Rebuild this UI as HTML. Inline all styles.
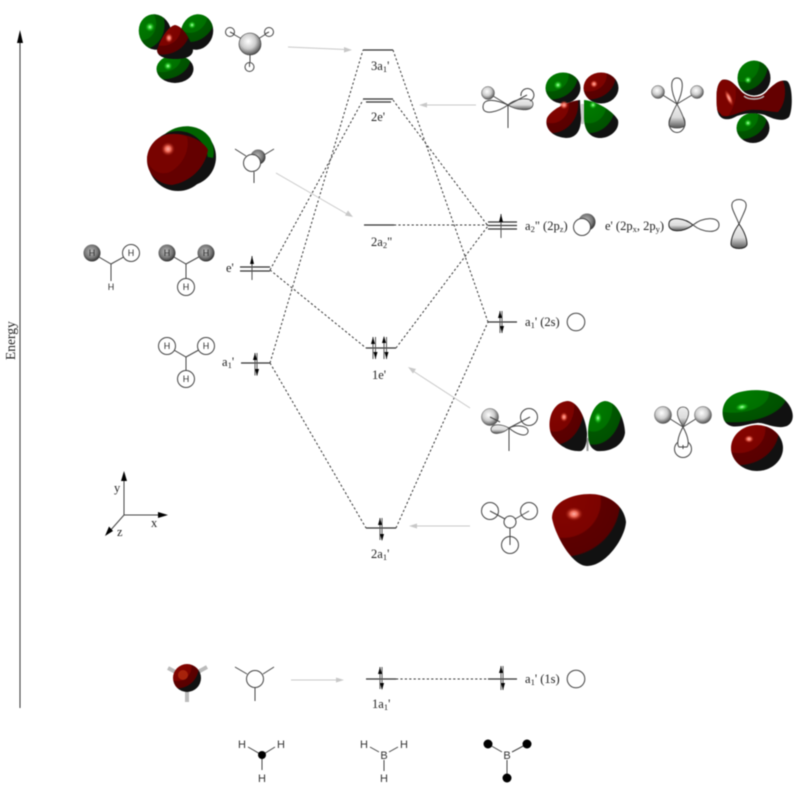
<!DOCTYPE html>
<html><head><meta charset="utf-8"><style>
html,body{margin:0;padding:0;background:#fff;width:800px;height:785px;overflow:hidden}
svg{display:block;filter:blur(.4px)}
text{font-family:"Liberation Serif",serif;font-size:12.5px;fill:#222}
.h{font-family:"Liberation Sans",sans-serif;font-size:9px;fill:#333;text-anchor:middle}
.b{font-family:"Liberation Sans",sans-serif;font-size:11px;fill:#333;text-anchor:middle}
.s{font-size:8.5px}
.d{stroke:#333;stroke-width:1;stroke-dasharray:2.2 2.2;fill:none}
.l{stroke:#333;stroke-width:1.2;fill:none}
.n{stroke:#444;stroke-width:1;fill:none}
.w{stroke:#444;stroke-width:1;fill:#fff}
.g{stroke:#c8c8c8;stroke-width:1;fill:none}
</style></head><body>
<svg width="800" height="785" viewBox="0 0 800 785" xmlns="http://www.w3.org/2000/svg">
<defs>
<radialGradient id="r" cx=".15" cy=".1" r="1">
<stop offset="0" stop-color="#850500"/><stop offset=".5" stop-color="#7c0300"/><stop offset=".52" stop-color="#5c0000"/><stop offset=".76" stop-color="#580000"/><stop offset=".78" stop-color="#111"/><stop offset="1" stop-color="#111"/></radialGradient>
<radialGradient id="v" cx=".15" cy=".1" r="1">
<stop offset="0" stop-color="#007c00"/><stop offset=".5" stop-color="#007000"/><stop offset=".52" stop-color="#005600"/><stop offset=".76" stop-color="#005000"/><stop offset=".78" stop-color="#111"/><stop offset="1" stop-color="#111"/></radialGradient>
<radialGradient id="hr"><stop offset="0" stop-color="#ffb0a8"/><stop offset=".4" stop-color="#f06a58"/><stop offset="1" stop-color="#a01808" stop-opacity="0"/></radialGradient>
<radialGradient id="hv"><stop offset="0" stop-color="#b8ffb8"/><stop offset=".4" stop-color="#30d030"/><stop offset="1" stop-color="#009000" stop-opacity="0"/></radialGradient>
<radialGradient id="k" cx=".42" cy=".38" r=".68"><stop offset="0" stop-color="#fff"/><stop offset=".5" stop-color="#ccc"/><stop offset=".85" stop-color="#666"/><stop offset="1" stop-color="#333"/></radialGradient>
<radialGradient id="dk" cx=".45" cy=".42" r=".62"><stop offset="0" stop-color="#bbb"/><stop offset=".6" stop-color="#777"/><stop offset="1" stop-color="#222"/></radialGradient>
<linearGradient id="t" x1="0" y1="0" x2="0" y2="1"><stop offset="0" stop-color="#eee"/><stop offset=".55" stop-color="#dcdcdc"/><stop offset="1" stop-color="#555"/></linearGradient>
</defs>

<!-- Energy axis -->
<line x1="20" y1="708" x2="20" y2="40" stroke="#333" stroke-width="1"/>
<path d="M20 30L23 43H17Z" fill="#000"/>
<text transform="translate(15,360) rotate(-90)" style="font-size:13.5px">Energy</text>

<!-- dashed correlation lines -->
<path class="d" d="M270 363L363 50M270 270L363 100M270 270L366 348M270 363L366 528M393 50L488 322M393 100L488 226M394 225H488M396 348L488 226M396 528L488 322M396 679H488"/>

<!-- gray arrows -->
<g class="g"><path d="M288 47L345 49.500M476 105H426M276 173L347 214M470 408L413 371M470 526H416M291 680H338"/></g>
<g fill="#c8c8c8"><path d="M352 50L344 47V52.500ZM419 105L427 102.500V107.500ZM353 217L345 215.500L348 210.500ZM408 367L416 369L413 373.500ZM409 526L417 523.500V528.500ZM344 680L336 677.500V682.500Z"/></g>

<!-- levels -->
<g class="l">
<path d="M363 50H393M363 99H393M366 102H391M364 225H394M366 348H396M366 528H396M366 679H396"/>
<path d="M240 267H270M240 271H270M241 363H270"/>
<path d="M488 222H517M488 225.500H517M488 229H517M488 322H517M488 679H517"/>
</g>

<!-- spins -->
<g stroke="#555" stroke-width="1" fill="none">
<path d="M252 256V280M255 353V375.500M257 353V375.500M373 337V359M375.500 337V359M384 337V359M386.500 337V359M380 518V540M382 518V540M380 667V689M382 667V689M501 666V690M503 666V690M500 311V333M502 311V333M501 214V238"/>
</g>
<g fill="#000">
<path d="M252 256L254 264H250ZM255 353L257 360H253ZM257 376L255 369H259ZM373 337L375 344H371ZM375.500 359L373.500 352H377.500ZM384 336L386 343H382ZM386.500 359L384.500 352H388.500ZM380 518L382 525H378ZM382 541L380 534H384ZM380 667L382 674H378ZM382 690L380 683H384ZM501 666L503 673H499ZM503 690L501 683H505ZM500 311L502 318H498ZM502 333L500 326H504ZM501 214L503 222H499Z"/>
</g>

<!-- level labels -->
<text x="371" y="70">3a<tspan class="s" dy="2">1</tspan><tspan dy="-2">'</tspan></text>
<text x="371" y="121">2e'</text>
<text x="371" y="246">2a<tspan class="s" dy="2">2</tspan><tspan dy="-2">"</tspan></text>
<text x="372" y="379">1e'</text>
<text x="371" y="558">2a<tspan class="s" dy="2">1</tspan><tspan dy="-2">'</tspan></text>
<text x="372" y="708">1a<tspan class="s" dy="2">1</tspan><tspan dy="-2">'</tspan></text>
<text x="226" y="272">e'</text>
<text x="222" y="366">a<tspan class="s" dy="2">1</tspan><tspan dy="-2">'</tspan></text>
<text x="525" y="230">a<tspan class="s" dy="2">2</tspan><tspan dy="-2">" (2p</tspan><tspan class="s" dy="2">z</tspan><tspan dy="-2">)</tspan></text>
<text x="605" y="230">e' (2p<tspan class="s" dy="2">x</tspan><tspan dy="-2">, 2p</tspan><tspan class="s" dy="2">y</tspan><tspan dy="-2">)</tspan></text>
<text x="525" y="326">a<tspan class="s" dy="2">1</tspan><tspan dy="-2">' (2s)</tspan></text>
<text x="525" y="683">a<tspan class="s" dy="2">1</tspan><tspan dy="-2">' (1s)</tspan></text>

<!-- axes -->
<path class="n" d="M124 515V478M124 515H160M124 515L109 532"/>
<g fill="#000"><path d="M124 471L127 481H121ZM168 515L158 518V512ZM105 536L109 526.500L113 531Z"/></g>
<text x="114" y="492">y</text><text x="151" y="527">x</text><text x="117" y="536">z</text>

<!-- TOP-LEFT MO -->
<ellipse cx="155" cy="32" rx="16" ry="18" transform="rotate(-20 155 32)" fill="url(#v)"/>
<ellipse cx="197" cy="32" rx="16" ry="18" transform="rotate(20 197 32)" fill="url(#v)"/>
<ellipse cx="175" cy="69" rx="18.500" ry="14" fill="url(#v)"/>
<path d="M175 25C183 26 191 40 193 50C193 58 182 59 175 59C166 59 157 57 157 50C160 40 168 26 175 25Z" fill="url(#r)"/>
<circle cx="150" cy="27" r="5" fill="url(#hv)"/><circle cx="192" cy="25" r="4" fill="url(#hv)"/><circle cx="168" cy="66" r="4.500" fill="url(#hv)"/><ellipse cx="169" cy="38" rx="4" ry="5" fill="url(#hr)"/>
<!-- top-left ball -->
<path class="n" d="M233 34L242 39M266 34L258 39M250 54V62"/>
<circle cx="250" cy="44" r="11" fill="url(#k)" stroke="#333" stroke-width=".6"/>
<circle cx="230" cy="32" r="4.500" class="w"/><circle cx="269" cy="32" r="4.500" class="w"/><circle cx="249.500" cy="67" r="4.500" class="w"/>
<path class="n" d="M230 32L234 34M269 32L265 34M249.500 67V62"/>

<!-- second-left MO -->
<circle cx="187" cy="157" r="29" fill="#111"/>
<path d="M165 134C178 123 200 123 210 138C213 144 215 150 213 158L175 150Z" fill="#006400"/>
<circle cx="178" cy="161" r="30" fill="#111"/>
<path d="M172 134C190 133 205 143 208 150C205 168 190 182 172 185C156 184 147 172 147 160C147 146 158 134 172 134Z" fill="#640000"/>
<path d="M172 134C178 134 183 135 187 137C190 150 183 165 170 172C160 176 150 170 147 160C147 146 158 134 172 134Z" fill="#780300"/>
<circle cx="168" cy="149" r="7" fill="url(#hr)"/>
<!-- ball -->
<circle cx="258" cy="157" r="7.500" fill="url(#dk)"/>
<circle cx="252" cy="163" r="8.500" class="w"/>
<path class="n" d="M235 149L246 156M274 149L264 155M254 172V183"/>

<!-- H row e' -->
<path class="n" d="M92 253L111 264L131 253M111 264V281M167 253L186 264L206 253M186 264V279M167 346L186 357L206 346M186 357V371"/>
<circle cx="92" cy="253" r="8.500" fill="url(#dk)"/>
<circle cx="131" cy="253" r="8.500" class="w"/>
<circle cx="167" cy="253" r="8.500" fill="url(#dk)"/><circle cx="206" cy="253" r="8.500" fill="url(#dk)"/>
<circle cx="186" cy="287" r="8.500" class="w"/>
<circle cx="167" cy="346" r="8.500" class="w"/><circle cx="206" cy="346" r="8.500" class="w"/><circle cx="186" cy="379" r="8.500" class="w"/>
<g>
<text class="h" x="92" y="256">H</text><text class="h" x="131" y="256">H</text><text class="h" x="111" y="290">H</text>
<text class="h" x="167" y="256">H</text><text class="h" x="206" y="256">H</text><text class="h" x="186" y="290">H</text>
<text class="h" x="167" y="349">H</text><text class="h" x="206" y="349">H</text><text class="h" x="186" y="382">H</text>
</g>

<!-- right shape 1 -->
<path class="w" d="M508 105C497 100 483 97 483 107C483 116 498 112 508 105Z"/>
<path d="M508 105C515 98 533 96 533 104C533 113 515 110 508 105Z" fill="url(#t)" stroke="#444" stroke-width=".8"/>
<path class="n" d="M508 105V128M508 105L488 93M508 105L527 95"/>
<circle cx="488" cy="93" r="6.500" fill="url(#k)" stroke="#555" stroke-width=".5"/>
<path class="n" d="M521 96A6.500 6.500 0 1 1 530 101"/>
<!-- right MO 1 -->
<ellipse cx="563" cy="88" rx="17.500" ry="15.500" fill="url(#v)"/>
<ellipse cx="601" cy="88" rx="17.500" ry="15.500" fill="url(#r)"/>
<path d="M580 100C570 101 552 108 547 118C544 128 552 137 566 138C578 138 581 128 581 118Z" fill="url(#r)"/>
<path d="M584 100C596 101 612 110 618 120C620 130 610 138 600 138C590 138 584 130 584 118Z" fill="url(#v)"/>
<rect x="581" y="104" width="3" height="20" fill="#ccc"/>
<circle cx="558" cy="85" r="4.500" fill="url(#hv)"/><circle cx="594" cy="84" r="4" fill="url(#hr)"/><circle cx="564" cy="105" r="4.500" fill="url(#hr)"/><circle cx="593" cy="105" r="4" fill="url(#hv)"/>

<!-- right shape 2 -->
<path class="w" d="M677 104C671 92 669 78 677 78C685 78 683 92 677 104Z"/>
<ellipse cx="677" cy="123" rx="8" ry="9.500" class="w"/>
<path d="M677 104C671 115 669 122 669 125C670 129 684 129 685 125C685 122 683 115 677 104Z" fill="url(#t)" stroke="#444" stroke-width=".8"/>
<path class="n" d="M677 104L658 92M677 104L697 92"/>
<circle cx="658" cy="92" r="6.500" fill="url(#k)" stroke="#555" stroke-width=".5"/>
<circle cx="697" cy="92" r="6.500" fill="url(#k)" stroke="#555" stroke-width=".5"/>
<!-- right MO 2 -->
<ellipse cx="753" cy="128" rx="16.500" ry="15" fill="url(#v)"/>
<path d="M722 80C730 78 735 85 740 90C745 97 760 101 768 90C775 83 782 79 787 81C793 85 793 110 789 117C784 122 775 120 765 115C755 112 745 113 737 116C727 122 718 120 717 108C716 96 716 84 722 80Z" fill="#111"/>
<path d="M722 80C730 78 735 85 740 90C745 97 760 101 768 90C775 83 780 80 783 81C787 90 785 105 778 112C770 112 760 109 750 110C740 111 730 118 722 116C717 112 716 84 722 80Z" fill="#640000"/>
<path d="M722 80C727 79 731 82 735 86C737 95 736 105 728 116C722 116 717 112 717 108C716 96 716 84 722 80Z" fill="#7c0300"/>
<ellipse cx="754" cy="78" rx="16.500" ry="17.500" fill="url(#v)"/>
<path d="M744 96C748 100 760 100 764 96" stroke="#bbb" stroke-width="1.500" fill="none"/>
<circle cx="748" cy="80" r="4" fill="url(#hv)"/><circle cx="748" cy="123" r="4" fill="url(#hv)"/><ellipse cx="729" cy="98" rx="3" ry="9" transform="rotate(-25 729 98)" fill="url(#hr)"/>

<!-- a2'' p -->
<circle cx="587" cy="222" r="8.500" fill="url(#dk)"/>
<circle cx="582" cy="227" r="8.500" class="w"/>
<path d="M693 225C685 218 670 216 669 223C667 233 683 233 693 225Z" fill="url(#t)" stroke="#222" stroke-width="1"/>
<path class="w" d="M693 225C703 217 719 216 719 225C719 234 703 233 693 225Z"/>
<path class="w" d="M739 224C735 214 731 208 732 204C733 198 745 198 746 204C747 208 743 214 739 224Z"/>
<path d="M739 224C733 232 731 240 731 244C731 250 747 250 747 244C747 240 745 232 739 224Z" fill="url(#t)" stroke="#222" stroke-width="1"/>
<circle cx="576" cy="322" r="8.800" class="w"/>
<circle cx="576" cy="679" r="8.800" class="w"/>

<!-- right shape 3 -->
<circle cx="529" cy="417" r="8.500" class="w"/>
<path class="w" d="M509 428C517 424 529 426 528 432C526 438 516 434 509 428Z"/>
<path class="n" d="M509 428V451M509 428L530 417"/>
<circle cx="490" cy="417" r="8.500" fill="url(#k)" stroke="#555" stroke-width=".5"/>
<path d="M509 428C502 424 492 423 491 429C491 436 503 434 509 428Z" fill="url(#t)" stroke="#444" stroke-width=".8"/>
<path class="n" d="M490 417L500 422"/>
<!-- right MO 3 -->
<path d="M568 401C579 402 586 420 587 433C587 444 585 449 581 451C570 452 559 446 553 437C546 428 549 402 568 401Z" fill="url(#r)"/>
<path d="M605 401C620 402 625 425 625 433C623 446 610 452 597 451C591 449 588 444 588 433C588 419 594 402 605 401Z" fill="url(#v)"/>
<rect x="586.500" y="438" width="2" height="13" fill="#999"/>
<ellipse cx="564" cy="417" rx="4" ry="5" fill="url(#hr)"/><ellipse cx="598" cy="418" rx="4" ry="6" fill="url(#hv)"/>

<!-- right shape 4 -->
<circle cx="683" cy="449" r="8.500" class="w"/>
<path class="w" d="M683 427C677 438 677 445 679 447H687C689 445 689 438 683 427Z"/>
<path d="M683 427C679 420 676 414 678 410C680 406 686 406 688 410C690 414 687 420 683 427Z" fill="url(#t)" stroke="#444" stroke-width=".8"/>
<path class="n" d="M683 427L664 415M683 427L702 415M683 445V449"/>
<circle cx="663" cy="415" r="8.500" fill="url(#k)" stroke="#555" stroke-width=".5"/>
<circle cx="703" cy="415" r="8.500" fill="url(#k)" stroke="#555" stroke-width=".5"/>
<!-- right MO 4 -->
<ellipse cx="757" cy="448" rx="26" ry="23" fill="url(#r)"/>
<path d="M740 392C755 388 775 390 785 400C795 410 795 422 787 426C775 430 765 422 757 423C745 424 730 432 724 420C720 410 724 396 740 392Z" fill="url(#v)"/>
<ellipse cx="742" cy="407" rx="7" ry="4" transform="rotate(-10 742 407)" fill="url(#hv)"/><ellipse cx="749" cy="439" rx="5" ry="4" fill="url(#hr)"/>

<!-- right shape 5 -->
<circle cx="510" cy="522" r="6" class="w"/>
<circle cx="490" cy="511" r="8.500" class="w"/><circle cx="529" cy="511" r="8.500" class="w"/><circle cx="510" cy="545" r="8.500" class="w"/>
<path class="n" d="M490 511L505 519M529 511L515 519M510 528V545"/>
<!-- right MO 5 -->
<path d="M590 494C608 494 624 505 626 522C625 538 606 566 587 566C572 566 555 535 552 518C552 503 570 494 590 494Z" fill="url(#r)"/>
<ellipse cx="574" cy="514" rx="9" ry="7" fill="url(#hr)"/>

<!-- bottom sphere -->
<path stroke="#bbb" stroke-width="4" fill="none" d="M168 668L187 678M207 667L187 678M187 702V680"/>
<circle cx="187" cy="678" r="14" fill="url(#r)"/>
<circle cx="183" cy="675" r="5" fill="#b83010" opacity=".7"/>
<path class="n" d="M235 667L247 674M274 667L263 674M255 688V701"/>
<circle cx="255" cy="679" r="8.500" class="w"/>

<!-- bottom structures -->
<path class="n" d="M248 747L262 755L275 747M262 755V770"/>
<circle cx="262" cy="755" r="4" fill="#000"/>
<text class="b" x="242" y="748">H</text><text class="b" x="281" y="748">H</text><text class="b" x="262" y="782">H</text>
<path class="n" d="M370 747L379 752M398 747L389 752M384 760V771"/>
<text class="b" x="384" y="759">B</text><text class="b" x="364" y="748">H</text><text class="b" x="404" y="748">H</text><text class="b" x="384" y="782">H</text>
<path class="n" d="M488 744L502 752M527 744L512 752M507 760V778"/>
<text class="b" x="507" y="759">B</text>
<circle cx="488" cy="744" r="4.500" fill="#000"/><circle cx="527" cy="744" r="4.500" fill="#000"/><circle cx="507" cy="778" r="4.500" fill="#000"/>
</svg>
</body></html>
